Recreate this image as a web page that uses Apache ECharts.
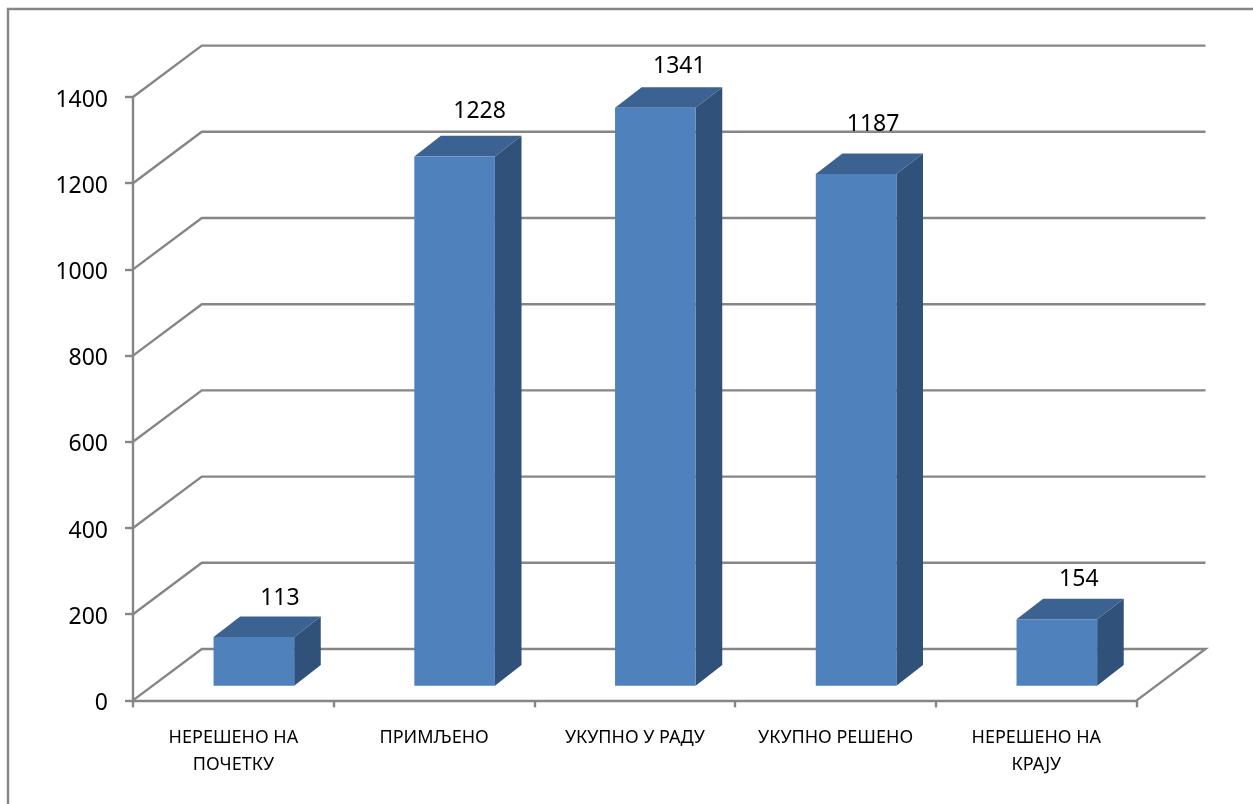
<!DOCTYPE html>
<html>
<head>
<meta charset="utf-8">
<style>html,body{margin:0;padding:0;background:#fff}#c{width:1253px;height:804px}</style>
<script src="https://cdn.jsdelivr.net/npm/echarts@6/dist/echarts.min.js"></script>
</head>
<body>
<div id="c"></div>
<script>
const categories = ['НЕРЕШЕНО НА\nПОЧЕТКУ', 'ПРИМЉЕНО', 'УКУПНО У РАДУ', 'УКУПНО РЕШЕНО', 'НЕРЕШЕНО НА\nКРАЈУ'];
const values = [113, 1228, 1341, 1187, 154];
const yTicks = [0, 200, 400, 600, 800, 1000, 1200, 1400];

const LINE = '#868686', FRONT = '#4F81BD', TOP = '#3C6291', SIDE = '#30527A';
const FONT = '"Noto Sans"';
const LW = 2.4;
const WALL = [68.8, -51.4], BAR_SHIFT = [20.5, -14.7], BAR_DEPTH = [26.6, -20.6], BAR_W = 80.6;
const LABEL_NUDGE = [[26, -17.5], [25, -24], [24, -21], [17, -29], [22, -19]];

const chart = echarts.init(document.getElementById('c'), null, {renderer: 'canvas'});

function renderGrid(params, api) {
  const v = api.value(1);
  const p = api.coord([0, v]);
  const band = api.size([1, 0])[0];
  const x0 = p[0] - band / 2, x1 = x0 + band * categories.length, y = p[1];
  const bx = x0 + WALL[0], by = y + WALL[1];
  const style = {stroke: LINE, lineWidth: LW, fill: null};
  const children = [{
    type: 'polyline', silent: true,
    shape: {points: v === 0 ? [[x0, y], [bx, by], [x1 + WALL[0], by], [x1, y]] : [[x0, y], [bx, by], [x1 + WALL[0], by]]},
    style
  }];
  return {type: 'group', children};
}

function renderBar(params, api) {
  const i = api.value(0), v = api.value(1);
  const t = api.coord([i, v]), b = api.coord([i, 0]);
  const xl = t[0] + BAR_SHIFT[0] - BAR_W / 2, xr = xl + BAR_W;
  const yt = t[1] + BAR_SHIFT[1], yb = b[1] + BAR_SHIFT[1];
  const dx = BAR_DEPTH[0], dy = BAR_DEPTH[1];
  const n = LABEL_NUDGE[i];
  return {type: 'group', children: [
    {type: 'polygon', shape: {points: [[xr, yt], [xr + dx, yt + dy], [xr + dx, yb + dy], [xr, yb]]}, style: {fill: SIDE}},
    {type: 'polygon', shape: {points: [[xl, yt], [xl + dx, yt + dy], [xr + dx, yt + dy], [xr, yt]]}, style: {fill: TOP}},
    {type: 'rect', shape: {x: xl, y: yt, width: BAR_W, height: yb - yt}, style: {fill: FRONT}},
    {type: 'text', z2: 10, style: {
      x: xl + BAR_W / 2 + n[0], y: yt + dy + n[1], text: String(v),
      align: 'center', verticalAlign: 'middle', fill: '#000', font: '23px ' + FONT
    }}
  ]};
}

chart.setOption({
  animation: false,
  backgroundColor: '#fff',
  grid: {left: 133, right: 116.3, top: 97, bottom: 103.6, containLabel: false},
  xAxis: {
    type: 'category', data: categories,
    axisLine: {lineStyle: {color: LINE, width: LW}},
    axisTick: {show: true, length: 7, alignWithLabel: false, lineStyle: {color: LINE, width: LW}},
    axisLabel: {interval: 0, color: '#000', fontFamily: FONT, fontSize: 18, lineHeight: 27, margin: 24},
    splitLine: {show: false}
  },
  yAxis: {
    type: 'value', min: 0, max: 1400, interval: 200,
    axisLine: {show: true, lineStyle: {color: LINE, width: LW}},
    axisTick: {show: true, length: 8, lineStyle: {color: LINE, width: LW}},
    axisLabel: {color: '#000', fontFamily: FONT, fontSize: 23, margin: 25, verticalAlign: 'top', lineHeight: 6, formatter: v => String(v)},
    splitLine: {show: false}
  },
  graphic: [{
    type: 'polyline', silent: true, z: -1,
    shape: {points: [[8, 804], [8, 9], [1253, 9]]},
    style: {stroke: LINE, lineWidth: LW, fill: null}
  }],
  series: [
    {type: 'custom', name: 'grid', z: 1, silent: true, clip: false, renderItem: renderGrid,
     encode: {x: 0, y: 1}, data: yTicks.map(v => [0, v])},
    {type: 'custom', name: 'bars', z: 3, silent: true, clip: false, renderItem: renderBar,
     encode: {x: 0, y: 1}, data: values.map((v, i) => [i, v])}
  ]
});
</script>
</body>
</html>
